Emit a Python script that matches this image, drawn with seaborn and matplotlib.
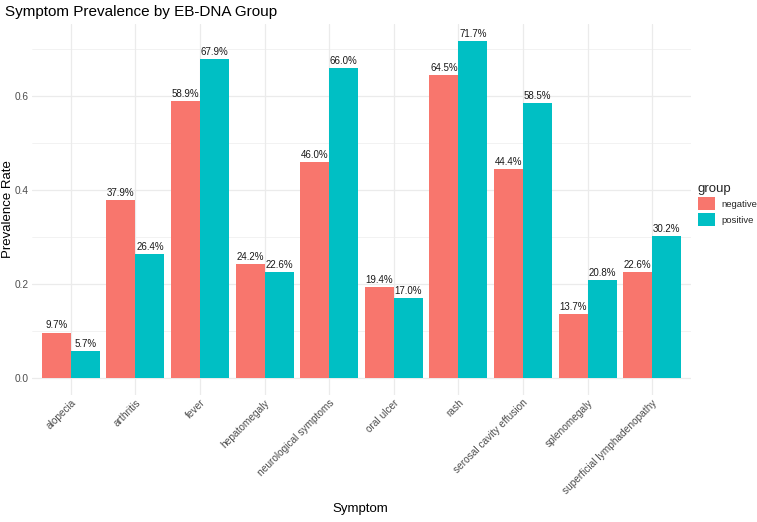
import matplotlib
matplotlib.use("Agg")
import matplotlib.pyplot as plt
import seaborn as sns
import pandas as pd
import numpy as np
from matplotlib.ticker import MultipleLocator
from matplotlib.patches import Patch

symptoms = ["alopecia", "arthritis", "fever", "hepatomegaly", "neurological symptoms",
            "oral ulcer", "rash", "serosal cavity effusion", "splenomegaly",
            "superficial lymphadenopathy"]
negative = [0.097, 0.379, 0.589, 0.242, 0.460, 0.194, 0.645, 0.444, 0.137, 0.226]
positive = [0.057, 0.264, 0.679, 0.226, 0.660, 0.170, 0.717, 0.585, 0.208, 0.302]
groups = ["negative", "positive"]
palette = {"negative": "#F8766D", "positive": "#00BFC4"}

df = pd.DataFrame({
    "Symptom": symptoms * 2,
    "rate": negative + positive,
    "group": ["negative"] * len(symptoms) + ["positive"] * len(symptoms),
})

sns.set_style("white")
plt.rcParams['font.family'] = ['Liberation Sans', 'DejaVu Sans']

W, H = 757, 522
L, R, B, T = 32, 691, 395, 24
fig = plt.figure(figsize=(W/100, H/100), dpi=100)
ax = fig.add_axes([L/W, 1-B/H, (R-L)/W, (B-T)/H])

sns.barplot(data=df, x="Symptom", y="rate", hue="group", order=symptoms,
            hue_order=groups, palette=palette, width=0.9, saturation=1,
            errorbar=None, ax=ax, zorder=3, linewidth=0, edgecolor="none")

for cont in ax.containers:
    labels = [f"{b.get_height()*100:.1f}%" for b in cont]
    ax.bar_label(cont, labels=labels, padding=1.5, fontsize=7, color="#1a1a1a")

ax.set_xlim(-0.6, len(symptoms) - 0.4)
ax.yaxis.set_major_locator(MultipleLocator(0.2))
ax.yaxis.set_minor_locator(MultipleLocator(0.1))
ax.set_ylim(-0.0359, 0.7535)
ax.yaxis.set_major_formatter(matplotlib.ticker.FormatStrFormatter("%.1f"))

ax.grid(True, which="major", axis="both", color="#EBEBEB", linewidth=0.9, zorder=0)
ax.grid(True, which="minor", axis="y", color="#EBEBEB", linewidth=0.45, zorder=0)
ax.set_axisbelow(True)
for s in ax.spines.values():
    s.set_visible(False)

ax.tick_params(axis="both", which="both", length=0, labelsize=7.3, labelcolor="#4d4d4d")
ax.tick_params(axis="y", pad=2.5)
ax.tick_params(axis="x", pad=2)
plt.setp(ax.get_xticklabels(), rotation=45, ha="right", rotation_mode="anchor")

ax.set_xlabel("Symptom", fontsize=9.5, color="black")
ax.xaxis.set_label_coords((360-L)/(R-L), (B-503)/(B-T))
ax.set_ylabel("Prevalence Rate", fontsize=9.5, color="black")
ax.yaxis.set_label_coords((14-L)/(R-L), 0.5)
ax.set_title("Symptom Prevalence by EB-DNA Group", fontsize=11, loc="left",
             x=-27/659, y=1.0, pad=6, color="black")

ax.legend_.remove()
handles = [Patch(facecolor=palette[g], edgecolor="none") for g in groups]
leg = fig.legend(handles, groups, title="group", loc="upper left",
                 bbox_to_anchor=(693/W, 1-178/H), frameon=False, borderpad=0,
                 fontsize=6.8, title_fontsize=9.5, handlelength=1.8, handleheight=1.8,
                 handletextpad=0.7, labelspacing=0.25, alignment="left")

fig.savefig("out.png", dpi=100)
